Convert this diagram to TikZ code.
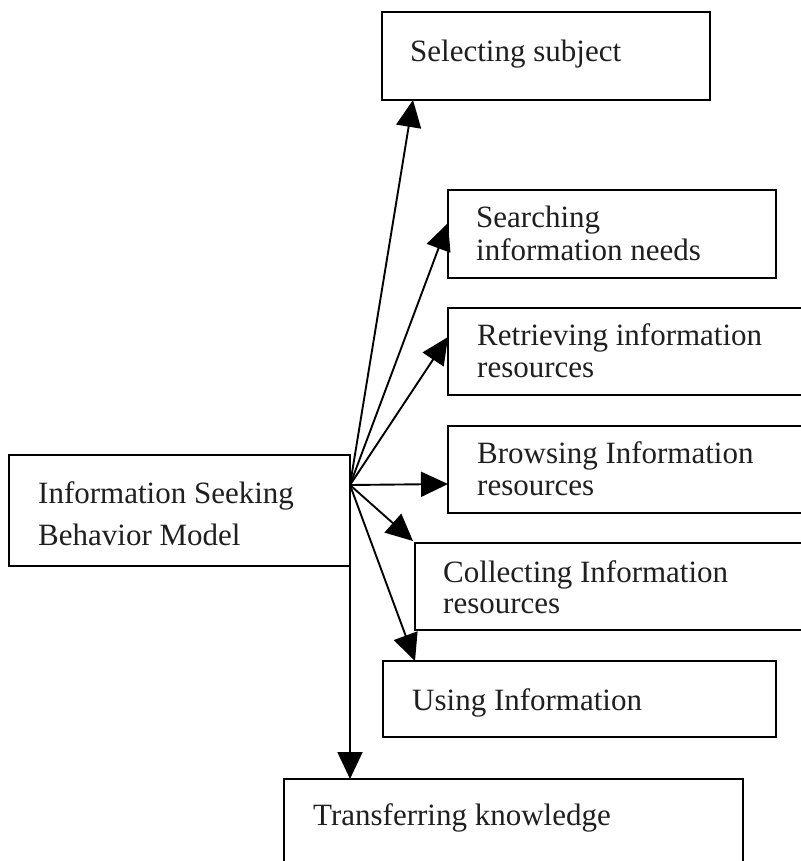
\documentclass[tikz,border=0pt]{standalone}
\usepackage{fontspec}
\setmainfont{Liberation Serif}
\usetikzlibrary{arrows.meta,calc}
\begin{document}
\begin{tikzpicture}[x=1pt,y=-1pt,
  box/.style={draw=black, line width=2pt, rectangle, inner sep=0pt, outer sep=0pt},
  lbl/.style={anchor=base west, inner sep=0pt, align=left, font=\fontsize{31}{32}\selectfont, text=black!88},
  arr/.style={line width=1.9pt, -{Triangle[length=27pt,width=25pt]}}
]
\useasboundingbox[fill=white] (0,0) rectangle (800,861);
% boxes
\node[box, minimum width=328pt, minimum height=88pt] (sel) at (546,56) {};
\node[box, minimum width=328pt, minimum height=88pt] (sea) at (612,234) {};
\node[box, minimum width=367pt, minimum height=87pt] (ret) at (631.5,351.5) {};
\node[box, minimum width=367pt, minimum height=87pt] (bro) at (631.5,469.5) {};
\node[box, minimum width=400pt, minimum height=87pt] (col) at (615,586.5) {};
\node[box, minimum width=393pt, minimum height=76pt] (use) at (579.5,699) {};
\node[box, minimum width=459pt, minimum height=101pt] (tra) at (513.5,829.5) {};
\node[box, minimum width=341pt, minimum height=111pt] (main) at (179.5,510.5) {};
% labels (multi-line labels are anchored at the baseline of their last line)
\node[lbl] (tsel) at (410,62) {Selecting subject};
\node[lbl, font=\fontsize{31}{33}\selectfont] (tsea) at (476,260) {Searching\\information needs};
\node[lbl] (tret) at (477,377) {Retrieving information\\resources};
\node[lbl] (tbro) at (477,495) {Browsing Information\\resources};
\node[lbl, font=\fontsize{31}{31}\selectfont] (tcol) at (443,613) {Collecting Information\\resources};
\node[lbl] (tuse) at (412,710) {Using Information};
\node[lbl] (ttra) at (313,825) {Transferring knowledge};
\node[lbl, font=\fontsize{31}{42}\selectfont] (tmain) at (38,545) {Information Seeking\\Behavior Model};
% connectors
\coordinate (o) at (350,485);
\draw[arr] (o) -- ($(sel.south west)+(31,0)$);
\draw[arr] (o) -- ($(sea.west)+(0,-11)$);
\draw[arr] (o) -- ($(ret.west)+(0,-14.5)$);
\draw[arr] (o) -- ($(bro.west)+(0,14.5)$);
\draw[arr] (o) -- ($(col.north west)+(-2,-2)$);
\draw[arr] (o) -- ($(use.north west)+(32,0)$);
\draw[arr] (o) -- (o |- tra.north);
\end{tikzpicture}
\end{document}
